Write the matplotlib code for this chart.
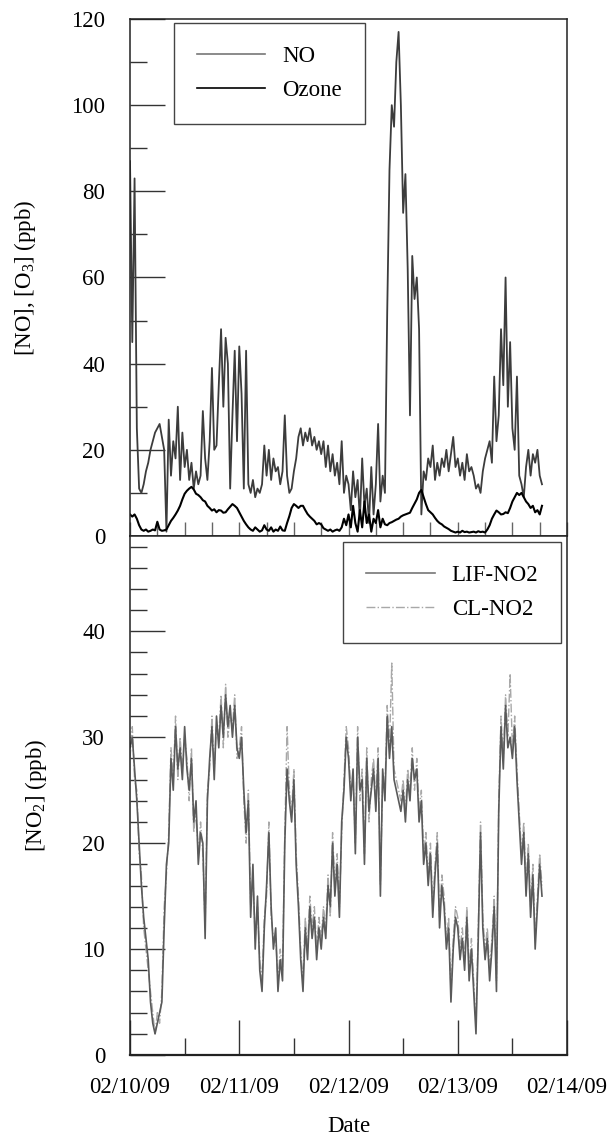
import pandas as pd
import matplotlib
matplotlib.use('Agg')
import matplotlib.pyplot as plt
import matplotlib.dates as mdates

plt.rcParams['font.family'] = ['Liberation Serif', 'DejaVu Serif']
plt.rcParams['mathtext.fontset'] = 'custom'
plt.rcParams['mathtext.rm'] = 'Liberation Serif'
plt.rcParams['mathtext.it'] = 'Liberation Serif:italic'
plt.rcParams['font.size'] = 16.5

# 30-min readings from 02/10/09 00:00
no_ppb = [
    87, 45, 83, 25, 11, 10, 12, 15, 17, 20, 22, 24,
    25, 26, 23, 20, 1, 27, 14, 22, 18, 30, 13, 24,
    16, 20, 13, 17, 11, 15, 12, 14, 29, 18, 13, 22,
    39, 20, 21, 35, 48, 30, 46, 40, 11, 28, 43, 22,
    44, 33, 11, 43, 12, 10, 13, 9, 11, 10, 12, 21,
    14, 20, 13, 18, 15, 16, 12, 15, 28, 14, 10, 11,
    15, 18, 23, 25, 21, 24, 22, 25, 21, 23, 20, 22,
    19, 22, 16, 21, 15, 19, 14, 17, 12, 22, 10, 14,
    12, 6, 15, 9, 13, 4, 18, 7, 11, 3, 16, 5,
    12, 26, 8, 14, 10, 52, 85, 100, 95, 110, 117, 100,
    75, 84, 62, 28, 65, 55, 60, 48, 5, 15, 13, 18,
    16, 21, 13, 17, 14, 18, 16, 20, 15, 19, 23, 16,
    18, 14, 17, 13, 19, 15, 16, 14, 11, 12, 10, 15,
    18, 20, 22, 17, 37, 22, 28, 48, 35, 60, 30, 45,
    25, 20, 37, 14, 12, 9, 16, 20, 14, 19, 17, 20,
    14, 12,
]
ozone_ppb = [
    5, 4.5, 5, 4, 2.5, 1.5, 1.2, 1.5, 1, 1.2, 1.5, 1.3,
    3.3, 1.5, 1.2, 1.3, 1.5, 2.5, 3.5, 4.2, 5, 5.9, 7, 8.5,
    9.8, 10.5, 11, 11.4, 10.8, 9.8, 9.5, 9, 8.3, 8, 7, 6.5,
    5.9, 6.2, 5.5, 6, 5.9, 5.4, 5.5, 6.2, 6.8, 7.4, 7, 6.5,
    5.5, 4.5, 3.5, 2.7, 2, 1.5, 1.2, 2, 1.5, 1, 1.3, 2.5,
    1.5, 1.2, 2, 1, 1.5, 1.2, 2.2, 1.3, 1.2, 3, 4.6, 6.5,
    7.4, 7, 6.5, 7, 7, 6, 5.1, 4.5, 4, 3.5, 2.7, 3,
    2.7, 1.8, 1.5, 1.2, 1.5, 1, 1.3, 1.5, 1.2, 2, 4, 2.5,
    5, 2, 7, 3, 1, 6, 2, 8, 3, 5, 1, 4,
    3, 6, 2, 4, 2.7, 2.5, 3, 3.2, 3.5, 3.8, 4, 4.5,
    4.8, 5, 5.2, 5.4, 6.5, 7.5, 8.5, 10, 10.7, 9, 7.4, 6,
    5.5, 5, 4.2, 3.5, 3, 2.7, 2.2, 1.9, 1.6, 1.2, 1, 0.8,
    1, 0.8, 1.2, 0.9, 1, 0.8, 0.9, 1, 0.8, 1.1, 0.9, 1,
    0.8, 1.5, 2.5, 4, 5, 5.9, 5.5, 5, 5.1, 5.5, 5.3, 6.5,
    8, 9, 10, 9.5, 10, 9, 8, 7.4, 6.5, 7, 5.5, 6,
    5, 7,
]
lif_no2 = [
    29, 30, 27, 24, 20, 16, 13, 11, 9, 5, 3, 2,
    3, 4, 5, 12, 18, 20, 28, 25, 31, 27, 29, 26,
    31, 27, 25, 28, 22, 24, 18, 21, 20, 11, 24, 28,
    31, 26, 32, 29, 33, 30, 34, 31, 33, 30, 33, 29,
    28, 30, 25, 21, 24, 13, 18, 10, 15, 8, 6, 12,
    16, 21, 14, 10, 12, 6, 9, 7, 20, 27, 24, 22,
    26, 18, 14, 9, 6, 12, 9, 14, 11, 13, 9, 12,
    10, 13, 11, 16, 14, 20, 15, 18, 13, 22, 25, 30,
    28, 24, 27, 19, 30, 25, 26, 18, 28, 23, 25, 27,
    23, 28, 15, 27, 24, 32, 28, 31, 26, 25, 24, 23,
    25, 22, 26, 24, 28, 26, 27, 22, 24, 18, 20, 16,
    19, 13, 17, 20, 12, 16, 14, 10, 12, 5, 10, 13,
    12, 9, 11, 8, 13, 7, 10, 6, 2, 11, 21, 12,
    9, 11, 7, 10, 14, 6, 23, 31, 27, 33, 29, 30,
    28, 31, 26, 22, 18, 21, 15, 19, 13, 17, 10, 14,
    18, 15,
]
cl_no2 = [
    28, 31, 26, 25, 19, 17, 12, 10, 8, 6, 4, 2,
    4, 3, 6, 14, 17, 21, 29, 26, 32, 26, 30, 27,
    30, 28, 24, 29, 21, 23, 19, 22, 19, 12, 25, 27,
    32, 27, 31, 30, 34, 29, 35, 30, 32, 31, 34, 28,
    29, 31, 24, 20, 25, 14, 17, 11, 14, 9, 7, 13,
    15, 22, 13, 11, 11, 7, 10, 8, 21, 31, 25, 23,
    27, 19, 15, 10, 7, 13, 10, 15, 12, 14, 10, 13,
    11, 14, 12, 17, 13, 21, 16, 19, 14, 21, 26, 31,
    29, 25, 26, 20, 31, 24, 27, 19, 29, 22, 26, 28,
    24, 29, 16, 26, 25, 33, 29, 37, 27, 26, 25, 24,
    26, 23, 27, 25, 29, 25, 28, 23, 25, 19, 21, 17,
    20, 14, 18, 21, 13, 17, 15, 11, 13, 6, 11, 14,
    13, 10, 12, 9, 14, 8, 11, 7, 3, 12, 22, 13,
    10, 12, 8, 11, 15, 7, 24, 32, 28, 34, 30, 36,
    29, 32, 27, 23, 19, 22, 16, 20, 14, 18, 11, 15,
    19, 16,
]

times = pd.date_range('2009-02-10 00:00', periods=len(no_ppb), freq='30min')
t0 = pd.Timestamp('2009-02-10')
t1 = pd.Timestamp('2009-02-14')

fig = plt.figure(figsize=(6.13, 11.45), dpi=100)
ax1 = fig.add_axes([0.2121, 0.5319, 0.7129, 0.4515])
ax2 = fig.add_axes([0.2121, 0.0786, 0.7129, 0.4533])

# top panel: NO and ozone
ax1.plot(times, no_ppb, color='#3c3c3c', lw=1.3, label='NO')
ax1.plot(times, ozone_ppb, color='black', lw=1.5, label='Ozone')
ax1.set_xlim(t0, t1)
ax1.set_ylim(0, 120)
ax1.set_yticks(range(0, 121, 20))
ax1.set_yticks(range(10, 120, 20), minor=True)
ax1.xaxis.set_major_locator(mdates.HourLocator(byhour=[0, 6, 12, 18]))
ax1.tick_params(axis='x', which='major', direction='in', length=10, width=1.0,
                color='#666666', labelbottom=False)
ax1.set_ylabel('[NO], [O$_3$] (ppb)')
ax1.yaxis.set_label_coords(-0.21, 0.5)
leg1 = ax1.legend(loc='upper left', bbox_to_anchor=(0.1, 0.992), fancybox=False,
                  edgecolor='#444444', framealpha=1, borderpad=1.0, handlelength=3.0,
                  handletextpad=0.75, labelspacing=0.55, borderaxespad=0)
leg1.get_lines()[0].set_color('#777777')
for ln in leg1.get_lines():
    ln.set_linewidth(1.2)

# bottom panel: NO2
ax2.plot(times, cl_no2, color='#a8a8a8', lw=1.0, ls='-.', label='CL-NO2')
ax2.plot(times, lif_no2, color='#5a5a5a', lw=1.2, label='LIF-NO2')
ax2.set_xlim(t0, t1)
ax2.set_ylim(0, 49)
ax2.set_yticks(range(0, 41, 10))
ax2.set_yticks(range(2, 49, 2), minor=True)
ax2.xaxis.set_major_locator(mdates.DayLocator())
ax2.xaxis.set_minor_locator(mdates.HourLocator(byhour=[12]))
ax2.xaxis.set_major_formatter(mdates.DateFormatter('%m/%d/%y'))
ax2.tick_params(axis='x', which='major', direction='in', length=25, width=1.0,
                color='#333333', pad=16)
ax2.tick_params(axis='x', which='minor', direction='in', length=12, width=1.0,
                color='#333333')
ax2.set_ylabel('[NO$_2$] (ppb)')
ax2.yaxis.set_label_coords(-0.185, 0.5)
ax2.set_xlabel('Date', labelpad=13)
handles, labels = ax2.get_legend_handles_labels()
leg2 = ax2.legend(handles[::-1], labels[::-1], loc='upper left',
                  bbox_to_anchor=(0.487, 0.988), fancybox=False, edgecolor='#444444',
                  framealpha=1, borderpad=1.0, handlelength=3.0, handletextpad=0.75,
                  labelspacing=0.55, borderaxespad=0)
leg2.get_lines()[0].set_color('#777777')

for ax in (ax1, ax2):
    ax.tick_params(axis='y', which='major', direction='in', length=25, width=1.0,
                   color='#333333', pad=18)
    ax.tick_params(axis='y', which='minor', direction='in', length=12, width=1.0,
                   color='#333333')
    for s in ax.spines.values():
        s.set_linewidth(1.1)
        s.set_color('#222222')
ax2.spines['bottom'].set_linewidth(1.6)

fig.savefig('out.png', dpi=100)
